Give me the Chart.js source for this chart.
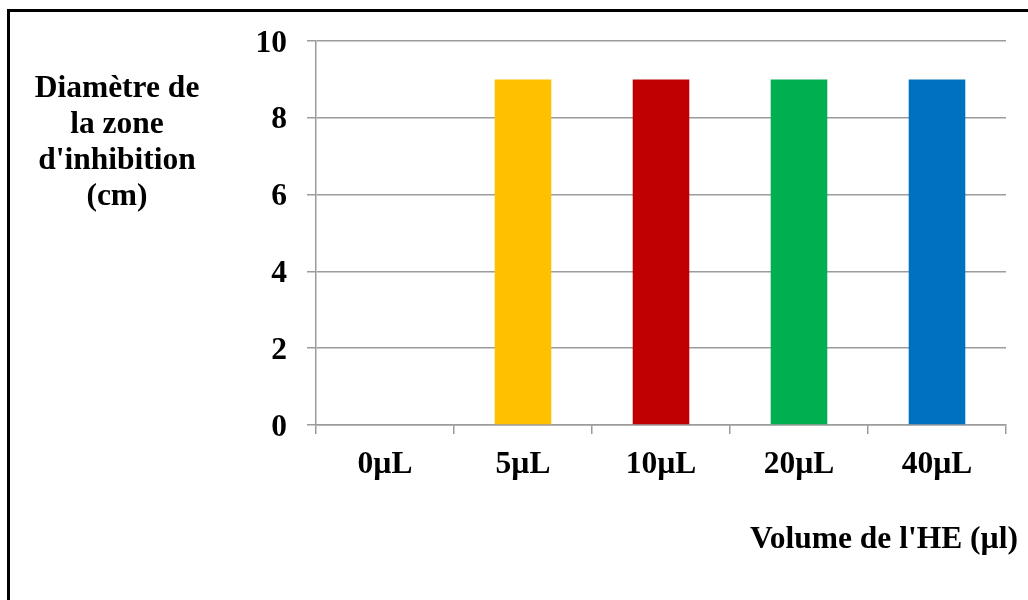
<!DOCTYPE html>
<html>
<head>
<meta charset="utf-8">
<script src="https://cdn.jsdelivr.net/npm/chart.js@4/dist/chart.umd.min.js"></script>
<style>
  html, body { margin: 0; padding: 0; background: #fff; overflow: hidden; }
  #wrap { position: relative; width: 1028px; height: 600px; }
  #frame { position: absolute; left: 7px; top: 9px; width: 1100px; height: 700px; border: 3px solid #000; box-sizing: border-box; pointer-events: none; }
  canvas { position: absolute; left: 0; top: 0; }
</style>
</head>
<body>
<div id="wrap">
  <canvas id="c" width="1028" height="600"></canvas>
  <div id="frame"></div>
</div>
<script>
// Inhibition zone diameter per essential-oil volume
const categories = ['0µL', '5µL', '10µL', '20µL', '40µL'];
const diameters = [0, 9, 9, 9, 9];
const barColors = ['#FFC000', '#FFC000', '#C00000', '#00B050', '#0070C0'];
const yTicks = [0, 2, 4, 6, 8, 10];

const yTitleLines = ['Diamètre de', 'la zone', "d'inhibition", '(cm)'];
const xTitle = "Volume de l'HE (µl)";

const FONT = "'Liberation Serif', 'Times New Roman', serif";
const SIZE = 31.5;

// Horizontal, multi-line axis titles drawn on the canvas
const axisTitles = {
  id: 'axisTitles',
  afterDraw(chart) {
    const ctx = chart.ctx;
    ctx.save();
    ctx.fillStyle = '#000';
    ctx.font = 'bold ' + SIZE + 'px ' + FONT;
    ctx.textAlign = 'center';
    ctx.textBaseline = 'alphabetic';
    yTitleLines.forEach((line, i) => ctx.fillText(line, 117, 97 + i * 36));
    ctx.textAlign = 'right';
    ctx.fillText(xTitle, 1018, 548);
    ctx.restore();
  }
};

new Chart(document.getElementById('c'), {
  type: 'bar',
  data: {
    labels: categories,
    datasets: [{
      data: diameters,
      backgroundColor: barColors,
      borderWidth: 0,
      categoryPercentage: 1,
      barPercentage: 0.41
    }]
  },
  options: {
    responsive: false,
    animation: false,
    layout: { padding: { top: 41, right: 22, left: 0, bottom: 0 } },
    plugins: { legend: { display: false }, tooltip: { enabled: false } },
    scales: {
      x: {
        afterFit(scale) { scale.height = 175; },
        grid: { offset: true, drawOnChartArea: false, drawTicks: true, tickLength: 9, color: '#9c9c9c', lineWidth: 1.5 },
        border: { display: true, color: '#9c9c9c', width: 1.5 },
        ticks: { color: '#000', font: { family: FONT, size: SIZE, weight: 'bold' }, padding: 12, maxRotation: 0 }
      },
      y: {
        min: 0,
        max: 10,
        afterFit(scale) { scale.width = 316; },
        afterBuildTicks(scale) { scale.ticks = yTicks.map(v => ({ value: v })); },
        grid: { drawTicks: true, tickLength: 9, color: '#9c9c9c', lineWidth: 1.5 },
        border: { display: true, color: '#9c9c9c', width: 1.5 },
        ticks: { color: '#000', font: { family: FONT, size: SIZE, weight: 'bold' }, padding: 20, labelOffset: 2.5 }
      }
    }
  },
  plugins: [axisTitles]
});
</script>
</body>
</html>
